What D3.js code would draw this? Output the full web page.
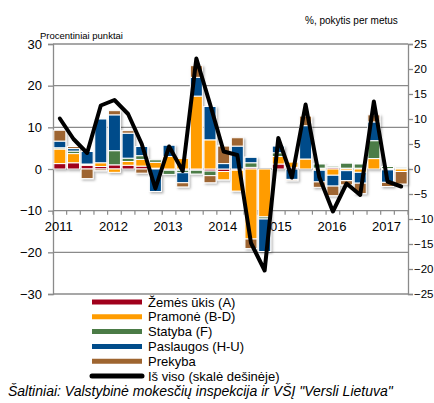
<!DOCTYPE html>
<html>
<head>
<meta charset="utf-8">
<script src="https://cdn.jsdelivr.net/npm/d3@7"></script>
<style>
  body { margin: 0; background: #fff; }
  text { font-family: "Liberation Sans", Arial, sans-serif; }
</style>
</head>
<body>
<div id="chart"></div>
<script>
// quarters 2011 Q1 .. 2017 Q2
const quarters = ["2011Q1","2011Q2","2011Q3","2011Q4","2012Q1","2012Q2","2012Q3","2012Q4",
  "2013Q1","2013Q2","2013Q3","2013Q4","2014Q1","2014Q2","2014Q3","2014Q4",
  "2015Q1","2015Q2","2015Q3","2015Q4","2016Q1","2016Q2","2016Q3","2016Q4",
  "2017Q1","2017Q2"];

const zemesUkis = [1.3, 1.5, 0.9, 0.6, 1.0, 0.9, 0.7, 0.2, -0.3, -0.3, -0.3, -0.5, -0.6, -0.3, 0.4, 0.0,
  1.2, 0.4, 0.0, 0.2, 0.4, 0.2, 0.2, 0.0, 0.1, 0.1];
const pramone = [3.5, 2.2, 0.2, 0.9, -0.8, 0.9, 1.6, 1.4, 3.0, 2.5, 17.5, 7.0, -2.0, -5.0, -16.8, -11.5,
  1.8, 1.3, 2.4, -0.3, -1.5, -0.4, -0.8, 2.5, -0.2, -0.6];
const statyba = [0.3, 0.6, 0.1, 0.0, 3.4, 0.8, 0.9, 0.6, -1.0, -0.6, -0.9, -1.1, 0.0, 0.0, 1.1, -0.5,
  0.9, 0.2, 0.0, 1.0, 0.3, 1.2, 1.0, 4.3, 0.5, 0.3];
const paslaugos = [1.6, 0.6, 3.0, 10.5, 8.6, 6.0, 2.2, -5.4, 2.7, -2.4, 4.5, 8.0, 1.3, 5.5, 1.3, -7.8,
  1.6, -2.5, 8.0, -2.8, -2.6, -2.4, -2.6, 4.5, -3.0, 0.0];
const prekyba = [2.6, 0.5, -2.3, -0.4, 1.0, 0.6, -1.0, 0.0, 0.0, -1.0, 2.8, -1.7, 4.2, 2.0, -2.3, 0.0,
  0.0, -0.3, 2.3, -1.3, -2.3, -1.0, -2.5, 1.7, -1.0, -3.0];
// total, right axis
const isViso = [10.1, 6.0, 3.2, 12.7, 13.8, 11.0, 5.0, -3.9, 4.5, -0.4, 22.1, 13.0, 3.5, 2.8, -14.8, -20.3,
  6.2, -1.7, 12.9, -1.6, -8.5, -2.9, -5.2, 13.5, -2.5, -3.5];

const seriesNames = ["Žemės ūkis (A)", "Pramonė (B-D)", "Statyba (F)", "Paslaugos (H-U)", "Prekyba"];
const seriesValues = [zemesUkis, pramone, statyba, paslaugos, prekyba];
const colors = ["#a0001c", "#ff9c00", "#4b7b46", "#004c8a", "#9e6530"];
const leftTicks = [-30, -20, -10, 0, 10, 20, 30];
const rightTicks = [-25, -20, -15, -10, -5, 0, 5, 10, 15, 20, 25];

// build rows for d3.stack
const table = quarters.map((q, i) => {
  const row = { q: q };
  seriesNames.forEach((s, k) => { row[s] = seriesValues[k][i]; });
  return row;
});

const margin = { top: 44, right: 26, bottom: 109, left: 53 };
const width = 434 - margin.left - margin.right;
const height = 403 - margin.top - margin.bottom;

const root = d3.select("#chart").append("svg")
  .attr("width", 434)
  .attr("height", 403);

// soft shadow under the bars
const defs = root.append("defs");
const f = defs.append("filter").attr("id", "shadow")
  .attr("x", "-20%").attr("y", "-20%").attr("width", "140%").attr("height", "140%");
f.append("feDropShadow").attr("dx", 1.5).attr("dy", 1.5).attr("stdDeviation", 1.3)
  .attr("flood-color", "#000").attr("flood-opacity", 0.3);

const svg = root.append("g").attr("transform", `translate(${margin.left},${margin.top})`);

const x = d3.scaleBand().domain(quarters).range([0, width]).paddingInner(0.12).paddingOuter(0.06);
const yL = d3.scaleLinear().domain([-30, 30]).range([height, 0]);
const yR = d3.scaleLinear().domain([-25, 25]).range([height, 0]);

// gridlines
svg.append("g").selectAll("line").data(leftTicks).enter().append("line")
  .attr("x1", 0).attr("x2", width)
  .attr("y1", d => yL(d)).attr("y2", d => yL(d))
  .attr("stroke", "#8a8a8a").attr("stroke-width", 1.3);

// left axis
const gL = svg.append("g").call(d3.axisLeft(yL).tickValues(leftTicks).tickSize(5).tickPadding(6));
gL.selectAll("path, line").attr("stroke", "#8a8a8a").attr("stroke-width", 1.3);
gL.selectAll("text").attr("font-size", 13).attr("fill", "#000")
  .style("font-family", "'Liberation Sans', Arial, sans-serif");

// right axis (labels kept small enough to fit the window)
const gR = svg.append("g").attr("transform", `translate(${width},0)`)
  .call(d3.axisRight(yR).tickValues(rightTicks).tickSize(5).tickPadding(1));
gR.selectAll("path, line").attr("stroke", "#8a8a8a").attr("stroke-width", 1.3);
gR.selectAll("text").attr("font-size", 11.5).attr("fill", "#000")
  .style("font-family", "'Liberation Sans', Arial, sans-serif");

// category axis crossing at -10
const axisY = yL(-10);
const step = x.step();
const bounds = quarters.map(q => x(q) - step * x.paddingInner() / 2).concat([width]);
svg.append("g").selectAll("line").data(bounds).enter().append("line")
  .attr("x1", d => d).attr("x2", d => d)
  .attr("y1", axisY).attr("y2", axisY + 4)
  .attr("stroke", "#8a8a8a").attr("stroke-width", 1.2);
svg.append("g").selectAll("text")
  .data(quarters.filter(q => q.endsWith("Q1")))
  .enter().append("text")
  .attr("x", d => x(d) + x.bandwidth() / 2 - 1)
  .attr("y", axisY + 20)
  .attr("text-anchor", "middle")
  .attr("font-size", 13)
  .text(d => d.slice(0, 4));

// stacked bars
const stack = d3.stack().keys(seriesNames).offset(d3.stackOffsetDiverging);
const layers = stack(table);
const bars = svg.append("g").attr("filter", "url(#shadow)");
bars.selectAll("g").data(layers).enter().append("g")
  .attr("fill", (d, i) => colors[i])
  .selectAll("rect").data(d => d).enter().append("rect")
  .attr("x", d => x(d.data.q))
  .attr("width", x.bandwidth())
  .attr("y", d => yL(Math.max(d[0], d[1])))
  .attr("height", d => Math.abs(yL(d[0]) - yL(d[1])))
  .attr("stroke", "#fff").attr("stroke-width", 1);

// total line on right scale
const line = d3.line()
  .x((d, i) => x(quarters[i]) + x.bandwidth() / 2)
  .y(d => yR(d));
svg.append("path").datum(isViso)
  .attr("d", line)
  .attr("fill", "none")
  .attr("stroke", "#000")
  .attr("stroke-width", 4)
  .attr("stroke-linejoin", "round")
  .attr("stroke-linecap", "round");

// axis titles
root.append("text").attr("x", 40).attr("y", 39).attr("font-size", 9.5).text("Procentiniai punktai");
root.append("text").attr("x", 305).attr("y", 24).attr("font-size", 10).text("%, pokytis per metus");

// legend
const legendNames = seriesNames.concat(["Iš viso (skalė dešinėje)"]);
const legendColors = colors.concat(["#000"]);
const legend = root.append("g").attr("transform", "translate(92,302)");
legendNames.forEach((name, i) => {
  const g = legend.append("g").attr("transform", `translate(0,${i * 14.8})`);
  g.append("line").attr("x1", 0).attr("x2", 50).attr("y1", 0).attr("y2", 0)
    .attr("stroke", legendColors[i]).attr("stroke-width", 5)
    .attr("stroke-linecap", i === 5 ? "round" : "butt");
  g.append("text").attr("x", 56).attr("y", 4.5).attr("font-size", 13).text(name);
});

// source
root.append("text").attr("x", 8).attr("y", 396)
  .attr("font-size", 14).attr("font-style", "italic")
  .text("Šaltiniai: Valstybinė mokesčių inspekcija ir VŠĮ \"Versli Lietuva\"");
</script>
</body>
</html>
